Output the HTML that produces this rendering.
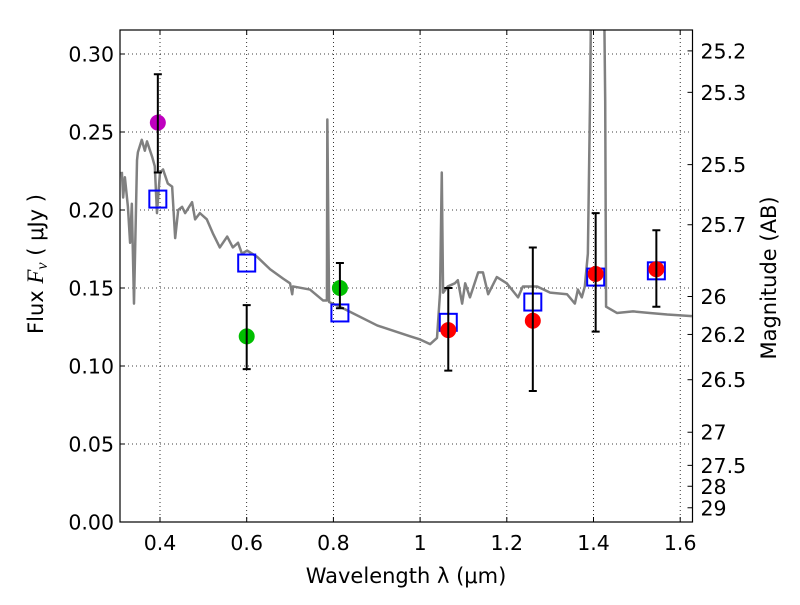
<!DOCTYPE html>
<html><head><meta charset="utf-8"><style>
body{margin:0;background:#fff}
svg{font-family:"DejaVu Sans","Liberation Sans",sans-serif}
</style></head><body>
<svg id="chart" width="800" height="600">
<defs><clipPath id="plotclip"><rect x="120" y="30" width="572.5" height="492"/></clipPath></defs>
<rect width="800" height="600" fill="#fff"/>
<g id="grid"></g>
<g id="marks" clip-path="url(#plotclip)"></g>
<g id="axes"></g>
</svg>
<script>
const xTicks=[0.4,0.6,0.8,1,1.2,1.4,1.6];
const xTickLabels=["0.4","0.6","0.8","1","1.2","1.4","1.6"];
const yTicks=[0,0.05,0.1,0.15,0.2,0.25,0.3];
const yTickLabels=["0.00","0.05","0.10","0.15","0.20","0.25","0.30"];
const magTicks=[25.2,25.3,25.5,25.7,26,26.2,26.5,27,27.5,28,29];
const magTickLabels=["25.2","25.3","25.5","25.7","26","26.2","26.5","27","27.5","28","29"];
const specLam=[0.312,0.315,0.319,0.326,0.331,0.335,0.340,0.347,0.349,0.358,0.365,0.370,0.382,0.388,0.393,0.400,0.407,0.418,0.428,0.435,0.442,0.451,0.458,0.474,0.481,0.492,0.508,0.522,0.538,0.555,0.568,0.580,0.589,0.601,0.624,0.654,0.684,0.700,0.705,0.707,0.746,0.776,0.785,0.786,0.790,0.822,0.901,0.977,1.000,1.023,1.039,1.046,1.050,1.053,1.064,1.080,1.087,1.097,1.104,1.115,1.134,1.145,1.157,1.177,1.200,1.226,1.237,1.270,1.300,1.339,1.357,1.364,1.373,1.380,1.387,1.392,1.397,1.422,1.427,1.429,1.454,1.491,1.530,1.570,1.627];
const specFlux=[0.2245,0.208,0.221,0.202,0.179,0.204,0.140,0.232,0.237,0.245,0.238,0.244,0.234,0.228,0.198,0.224,0.226,0.217,0.215,0.182,0.200,0.202,0.198,0.205,0.194,0.198,0.194,0.185,0.176,0.183,0.176,0.179,0.172,0.174,0.170,0.162,0.156,0.153,0.146,0.151,0.149,0.142,0.142,0.258,0.141,0.137,0.126,0.119,0.117,0.114,0.118,0.147,0.224,0.147,0.151,0.153,0.155,0.140,0.153,0.144,0.160,0.160,0.146,0.157,0.153,0.144,0.151,0.151,0.147,0.146,0.140,0.149,0.144,0.151,0.172,0.27,0.40,0.40,0.27,0.138,0.134,0.135,0.134,0.133,0.132];
const modelLam=[0.395,0.60,0.815,1.065,1.26,1.405,1.545];
const modelFlux=[0.207,0.166,0.134,0.128,0.141,0.157,0.161];
const obsLam=[0.395,0.60,0.815,1.065,1.26,1.405,1.545];
const obsFlux=[0.256,0.119,0.150,0.123,0.129,0.159,0.162];
const obsLo=[0.224,0.098,0.137,0.097,0.084,0.122,0.138];
const obsHi=[0.287,0.139,0.166,0.150,0.176,0.198,0.187];
const obsColor=["#bf00bf","#00bf00","#00bf00","#ff0000","#ff0000","#ff0000","#ff0000"];

const L=120,R=692.5,T=30,B=522;
const X=v=>160+(v-0.4)*433.5;
const Y=v=>B-v*1560;
const NS="http://www.w3.org/2000/svg";
function mk(tag,attrs,parent,text){const e=document.createElementNS(NS,tag);for(const k in attrs)e.setAttribute(k,attrs[k]);if(text!==undefined)e.textContent=text;parent.appendChild(e);return e;}
const grid=document.getElementById('grid'),marks=document.getElementById('marks'),axes=document.getElementById('axes');
xTicks.forEach((t,i)=>{
  const g=mk('line',{x1:X(t),x2:X(t),y1:T,y2:B,stroke:'#000','stroke-width':0.8,'stroke-dasharray':'1,3'},grid);
  
  
  mk('line',{x1:X(t),x2:X(t),y1:B,y2:B-5,stroke:'#000'},axes);
  mk('line',{x1:X(t),x2:X(t),y1:T,y2:T+5,stroke:'#000'},axes);
  const tx=mk('text',{x:X(t),y:B+28,'font-size':20.5,'text-anchor':'middle'},axes,xTickLabels[i]);
  
  
});
yTicks.forEach((t,i)=>{
  if(t>0){const g=mk('line',{x1:L,x2:R,y1:Y(t),y2:Y(t),stroke:'#000','stroke-width':0.8,'stroke-dasharray':'1,3'},grid);
  
  }
  mk('line',{x1:L,x2:L+5,y1:Y(t),y2:Y(t),stroke:'#000'},axes);
  const tx=mk('text',{x:L-6,y:Y(t)+7.5,'font-size':20.5,'text-anchor':'end'},axes,yTickLabels[i]);
  
  
});
magTicks.forEach((m,i)=>{
  const f=Math.pow(10,(23.9-m)/2.5);const y=Y(f);
  mk('line',{x1:R-5,x2:R,y1:y,y2:y,stroke:'#000'},axes);
  const tx=mk('text',{x:R+8,y:y+7.5,'font-size':20.5},axes,magTickLabels[i]);
  
  
});
const sp=mk('polyline',{points:specLam.map((l,i)=>X(l)+','+Y(specFlux[i])).join(' '),fill:'none',stroke:'#808080','stroke-width':2.5,'stroke-linejoin':'round'},marks);


modelLam.forEach((l,i)=>{
  const r=mk('rect',{x:X(l)-8.5,y:Y(modelFlux[i])-8.5,width:17,height:17,fill:'none',stroke:'#0000ff','stroke-width':2},marks);
  
  
});
obsLam.forEach((l,i)=>{
  const x=X(l);
  const c=mk('circle',{cx:x,cy:Y(obsFlux[i]),r:8,fill:obsColor[i]},marks);
  
  
  const e=mk('path',{d:`M${x},${Y(obsLo[i])}V${Y(obsHi[i])}M${x-4},${Y(obsLo[i])}h8M${x-4},${Y(obsHi[i])}h8`,stroke:'#000','stroke-width':2,fill:'none'},marks);
  
  
});
const fr=mk('rect',{x:L,y:T,width:R-L,height:B-T,fill:'none',stroke:'#000','stroke-width':1.2},axes);


const xl=mk('text',{x:406,y:583,'font-size':21,'text-anchor':'middle'},axes,'Wavelength  λ (μm)');


const yl=mk('text',{x:0,y:0,'font-size':21,'text-anchor':'middle',transform:'translate(43,264) rotate(-90)'},axes);


yl.innerHTML='Flux  <tspan font-family="Liberation Serif" font-style="italic" font-size="23">F</tspan><tspan font-family="Liberation Serif" font-style="italic" font-size="16" dy="4">ν</tspan><tspan dy="-4">  ( μJy )</tspan>';
const yr=mk('text',{x:0,y:0,'font-size':21,'text-anchor':'middle',transform:'translate(776,278) rotate(-90)'},axes,'Magnitude (AB)');


</script>
</body></html>
